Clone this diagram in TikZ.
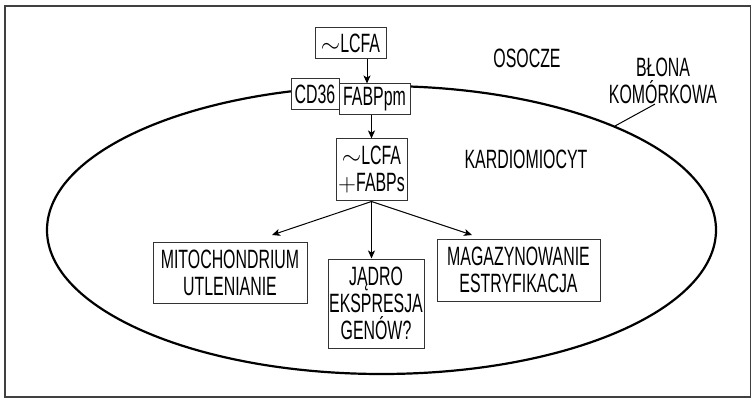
\documentclass[tikz,border=0pt]{standalone}
\usepackage{fontspec}
\setmainfont[FakeStretch=0.6]{Liberation Sans}
\usetikzlibrary{arrows.meta}

\tikzset{
    box/.style={draw=black!80, line width=1pt, inner sep=0pt, align=center,
        font=\fontsize{26.5}{27}\selectfont},
    lbl/.style={inner sep=0pt, align=center, font=\fontsize{26.5}{27}\selectfont},
    >={Stealth[length=8pt, width=7pt, inset=2pt]}
}

\begin{document}
\begin{tikzpicture}[x=1pt, y=-1pt]
    % frame
    \draw[black!75, line width=1.2pt] (5,6) rectangle (750.5,397);
    \useasboundingbox (0,0) rectangle (752,398);

    % cell membrane
    \draw[line width=2.2pt] (381.5,230) ellipse [x radius=334.5, y radius=144];

    \node[box, minimum width=71, minimum height=31] (lcfa) at (350.5,43.5) {$\sim$LCFA};
    \node[box, minimum width=48, minimum height=31, fill=white] (cd) at (315,94.5) {CD36};
    \node[box, minimum width=71, minimum height=31, fill=white] (fabp) at (374.5,99.5) {FABPpm};
    \node[box, minimum width=71, minimum height=62] (cpx) at (371.5,170) {$\sim$LCFA\\$+$FABPs};

    \node[box, minimum width=154, minimum height=61] (mito) at (230,272.5) {MITOCHONDRIUM\\UTLENIANIE};
    \node[box, minimum width=96, minimum height=89] (jadro) at (376,303.5) {JĄDRO\\EKSPRESJA\\GENÓW?};
    \node[box, minimum width=163, minimum height=62] (mag) at (518.5,270) {MAGAZYNOWANIE\\ESTRYFIKACJA};

    \node[lbl] (osocze) at (527,58.5) {OSOCZE};
    \node[lbl] (kardio) at (526,159.5) {KARDIOMIOCYT};
    \node[lbl] (blona) at (663,81) {BŁONA\\KOMÓRKOWA};

    \coordinate (left end) at (272,235);
    \coordinate (right end) at (472,235);
    \coordinate (mem) at (615,126);

    \draw[->, line width=1pt] ([xshift=16.5]lcfa.south) -- ([xshift=16.5]lcfa.south |- fabp.north);
    \draw[->, line width=1pt] (fabp.south -| cpx.north) -- (cpx.north);
    \draw[->, line width=1pt] (cpx.south) -- (left end);
    \draw[->, line width=1pt] (cpx.south) -- (jadro.north -| cpx.south);
    \draw[->, line width=1pt] (cpx.south) -- (right end);
    \draw[line width=1pt] ([xshift=-8]blona.south) -- (mem);
\end{tikzpicture}
\end{document}
